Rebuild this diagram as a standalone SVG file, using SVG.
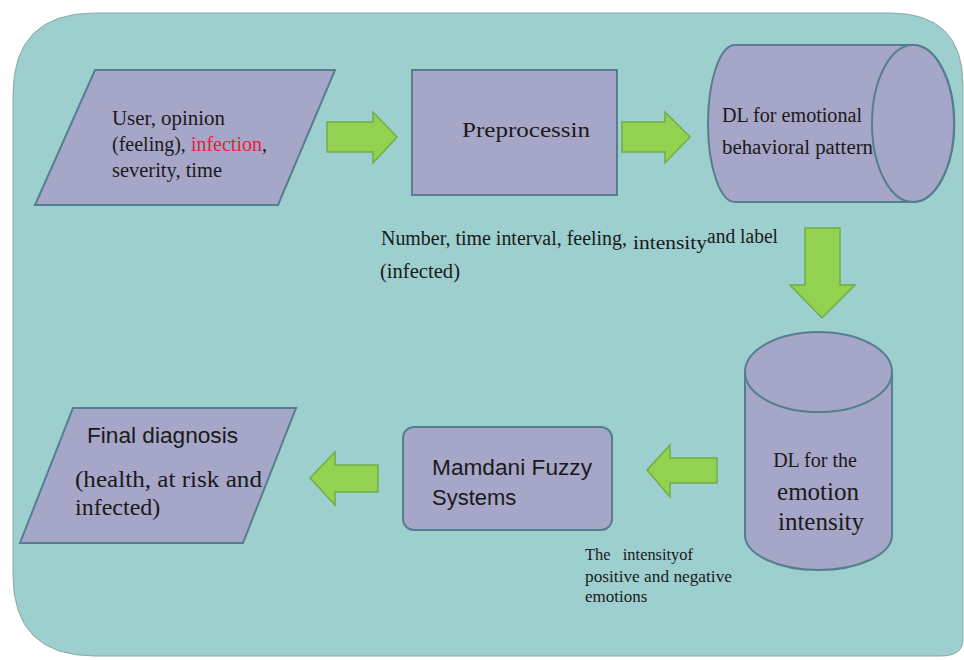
<svg xmlns="http://www.w3.org/2000/svg" width="964" height="660" viewBox="0 0 964 660">
<style>
.node{fill:#a6a6c8;stroke:#557f8e;stroke-width:2}
.arr{fill:#93d150;stroke:#6fae45;stroke-width:1.5}
.serif{font-family:"Liberation Serif","Times New Roman",serif;fill:#1a1a1a}
.sans{font-family:"Liberation Sans",Arial,sans-serif;fill:#1a1a1a}
</style>
<rect x="0" y="0" width="964" height="660" fill="#ffffff"/>
<path d="M95,13 H890 Q963,13 963,85 V640 Q963,656 940,656 H95 Q13,656 13,575 V95 Q13,13 95,13 Z" fill="#9dcfcf" stroke="#8aa9a9" stroke-width="1"/>
<g id="connectors">
<path class="arr" d="M327,122 H373 V112 L397,137 L373,163 V152 H327 Z"/>
<path class="arr" d="M622,122 H665 V112 L690,137 L665,163 V152 H622 Z"/>
<path class="arr" d="M805,228 H840 V285 H855 L822,318 L790,285 H805 Z"/>
<path class="arr" d="M717,458 H670 V445 L647,470 L670,497 V483 H717 Z"/>
<path class="arr" d="M378,465 H335 V452 L310,478 L335,505 V492 H378 Z"/>
</g>
<g id="n1">
<polygon class="node" points="95,70 335,70 278,205 35,205"/>
<text class="serif" font-size="20" x="112" y="125" textLength="113" lengthAdjust="spacingAndGlyphs">User, opinion</text>
<text class="serif" font-size="20" x="112" y="151" textLength="155" lengthAdjust="spacingAndGlyphs">(feeling), <tspan fill="#e8203a">infection</tspan>,</text>
<text class="serif" font-size="20" x="112" y="177" textLength="110" lengthAdjust="spacingAndGlyphs">severity, time</text>
</g>
<g id="n2">
<rect class="node" x="412" y="70" width="205" height="125"/>
<text class="serif" font-size="22" x="462" y="137" textLength="128" lengthAdjust="spacingAndGlyphs">Preprocessin</text>
</g>
<g id="n3">
<path class="node" d="M735,45 H913 A41,78 0 0 1 913,202 H735 A27,78.5 0 0 1 735,45 Z"/>
<ellipse class="node" cx="913" cy="123.5" rx="41" ry="78.5" fill="none"/>
<text class="serif" font-size="20" x="722" y="122" textLength="140" lengthAdjust="spacingAndGlyphs">DL for emotional</text>
<text class="serif" font-size="20" x="722" y="154" textLength="151" lengthAdjust="spacingAndGlyphs">behavioral pattern</text>
</g>
<g id="label1">
<text class="serif" font-size="20" x="381" y="245"><tspan textLength="246" lengthAdjust="spacingAndGlyphs">Number, time interval, feeling,</tspan><tspan x="633" y="249" font-size="19" textLength="74" lengthAdjust="spacingAndGlyphs">intensity</tspan><tspan x="707" y="243" textLength="71" lengthAdjust="spacingAndGlyphs">and label</tspan></text>
<text class="serif" font-size="20" x="380" y="278" textLength="80" lengthAdjust="spacingAndGlyphs">(infected)</text>
</g>
<g id="n4">
<path class="node" d="M745,372 V535 A73.5,35 0 0 0 892,535 V372"/>
<ellipse class="node" cx="818.5" cy="372" rx="73.5" ry="40"/>
<text class="serif" font-size="20" x="815" y="467" text-anchor="middle">DL for the</text>
<text class="serif" font-size="25" x="818" y="500" text-anchor="middle">emotion</text>
<text class="serif" font-size="25" x="821" y="530" text-anchor="middle">intensity</text>
</g>
<g id="label2">
<text class="serif" font-size="17" x="585" y="560" fill="#3a3a3a" xml:space="preserve" textLength="108" lengthAdjust="spacingAndGlyphs">The   intensityof</text>
<text class="serif" font-size="17" x="585" y="582" fill="#3a3a3a" textLength="147" lengthAdjust="spacingAndGlyphs">positive and negative</text>
<text class="serif" font-size="17" x="585" y="602" fill="#3a3a3a">emotions</text>
</g>
<g id="n5">
<rect class="node" x="403" y="427" width="209" height="103" rx="11"/>
<text class="sans" font-size="22" x="432" y="475" textLength="160" lengthAdjust="spacingAndGlyphs">Mamdani Fuzzy</text>
<text class="sans" font-size="22" x="432" y="505">Systems</text>
</g>
<g id="n6">
<polygon class="node" points="73,408 296,408 243,543 20,543"/>
<text class="sans" font-size="22" x="87" y="443" textLength="151" lengthAdjust="spacingAndGlyphs">Final diagnosis</text>
<text class="serif" font-size="24" x="75" y="487" textLength="187" lengthAdjust="spacingAndGlyphs">(health, at risk and</text>
<text class="serif" font-size="24" x="75" y="515">infected)</text>
</g>
</svg>
